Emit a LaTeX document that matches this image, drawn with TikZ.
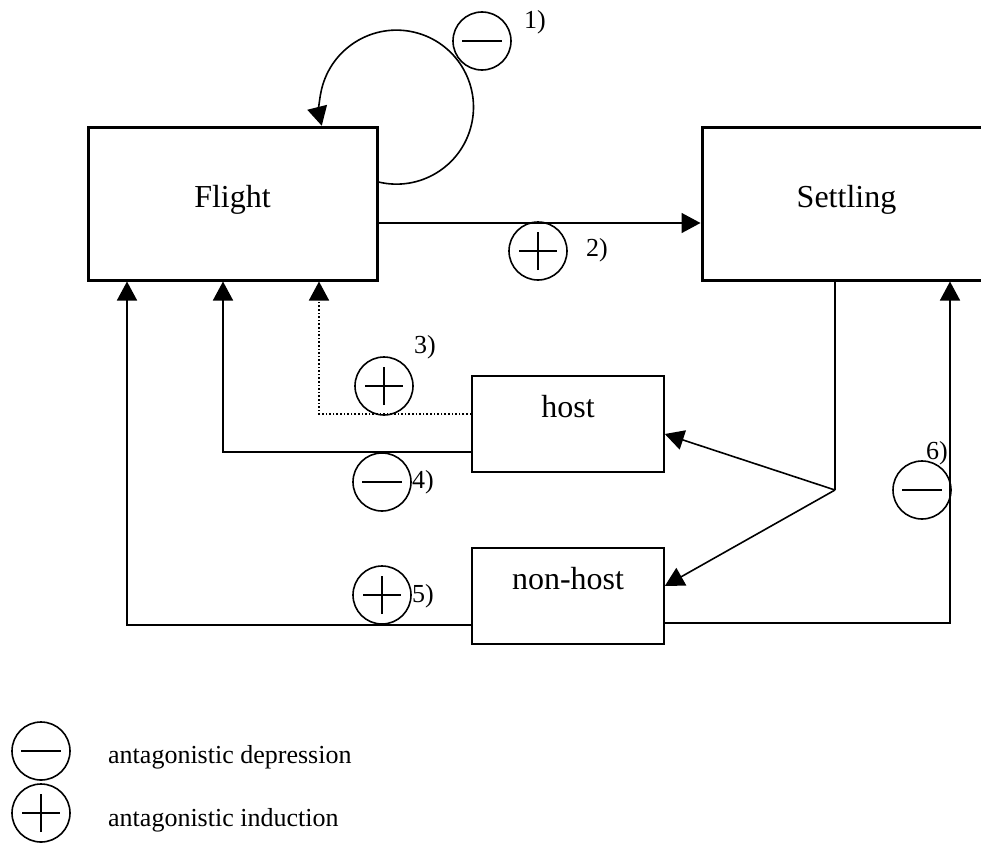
\documentclass[tikz,border=0pt]{standalone}
\usepackage{fontspec}
\setmainfont{Liberation Serif}
\usetikzlibrary{arrows.meta, positioning, calc}
\tikzset{
    every node/.style={font=\fontsize{26}{31}\selectfont, inner sep=0pt},
    box node/.style={draw, rectangle, inner sep=0pt, font=\fontsize{32}{38}\selectfont},
    big box/.style={box node, line width=3pt, minimum width=289pt, text height=80pt, text depth=73pt},
    small box/.style={box node, line width=1.6pt, minimum width=192pt, text height=41pt, text depth=55pt},
    sign node/.style={circle, draw, line width=1.6pt, minimum size=58pt, inner sep=0pt},
    minus node/.style={sign node, path picture={
        \draw[line width=1.6pt] ([xshift=-20pt]path picture bounding box.center) -- ([xshift=20pt]path picture bounding box.center);}},
    plus node/.style={sign node, path picture={
        \draw[line width=1.6pt] ([xshift=-19pt]path picture bounding box.center) -- ([xshift=19pt]path picture bounding box.center);
        \draw[line width=1.6pt] ([yshift=-19pt]path picture bounding box.center) -- ([yshift=19pt]path picture bounding box.center);}},
    thin line/.style={line width=1.6pt},
    link/.style={thin line, -{Triangle[length=19pt,width=20pt]}},
    dot line/.style={dash pattern=on 1.6pt off 2pt}
}

\begin{document}
\begin{tikzpicture}[x=1pt, y=1pt]
  \useasboundingbox (0,0) rectangle (981,-843);
  \clip (0,0) rectangle (981,-843);

  % boxes
  \node[big box] (flight) at (232.5,-203.5) {Flight};
  \node[big box] (settling) at (846.5,-203.5) {Settling};
  \node[small box] (host) at (568,-424) {host};
  \node[small box] (nonhost) at (568,-596) {non-host};

  % signs and numbers
  \node[minus node] (s1) at (482,-41) {};
  \node[plus node] (s2) at (538,-251) {};
  \node[plus node] (s3) at (384,-386) {};
  \node[minus node] (s4) at (382,-482) {};
  \node[plus node] (s5) at (382,-595) {};
  \node[minus node] (s6) at (922,-490) {};
  \node (n1) at (535,-22) {1)};
  \node (n2) at (597,-250) {2)};
  \node (n3) at (425,-347) {3)};
  \node (n4) at (423,-482) {4)};
  \node (n5) at (423,-596) {5)};
  \node (n6) at (937,-453) {6)};

  % connectors
  \draw[link] ([yshift=21.5pt]flight.east) arc[start angle=-103.5, end angle=194, radius=77pt];
  \draw[link] ([yshift=-19.5pt]flight.east) -- ([yshift=-19.5pt]settling.west);
  \draw[link, dot line] ([yshift=10pt]host.west) -| ([xshift=86.5pt]flight.south);
  \draw[link] ([yshift=-28pt]host.west) -| ([xshift=-9.5pt]flight.south);
  \draw[link] ([yshift=-29pt]nonhost.west) -| ([xshift=-105.5pt]flight.south);
  \draw[link] ([yshift=-27pt]nonhost.east) -| ([xshift=103.5pt]settling.south);
  \coordinate (fork) at (835,-490);
  \draw[thin line] (settling.south -| fork) -- (fork);
  \draw[link] (fork) -- ([yshift=-10pt]host.east);
  \draw[link] (fork) -- ([yshift=10pt]nonhost.east);

  % legend
  \node[minus node] (legminus) at (41,-751) {};
  \node[plus node] (legplus) at (41,-813) {};
  \node[anchor=base west] (legdep) at (108,-763) {antagonistic depression};
  \node[anchor=base west] (legind) at (108,-826) {antagonistic induction};
\end{tikzpicture}
\end{document}
